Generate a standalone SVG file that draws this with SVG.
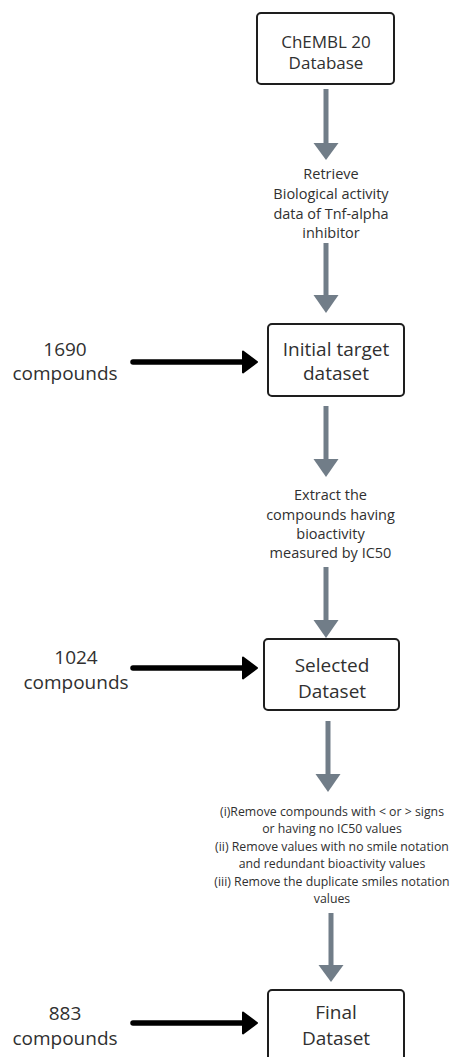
<svg xmlns="http://www.w3.org/2000/svg" width="454" height="1057" viewBox="0 0 454 1057">
  <defs>
    <style>
      .box { fill: #ffffff; stroke: #1e1e1e; stroke-width: 2; }
      .t { font-family: "Open Sans", "Liberation Sans", sans-serif; fill: #303030; text-anchor: middle; }
      .big { font-size: 19px; }
      .mid { font-size: 17px; }
      .step { font-size: 14.5px; }
      .small { font-size: 12.3px; }
      .flow { stroke: #717d88; stroke-width: 5; fill: none; }
      .flowhead { fill: #717d88; }
      .feed { stroke: #000000; stroke-width: 5.5; stroke-linecap: round; fill: none; }
      .feedhead { fill: #000000; stroke: #000000; stroke-width: 2; stroke-linejoin: round; }
    </style>
  </defs>
  <rect width="454" height="1057" fill="#ffffff"/>

  <!-- connectors -->
  <g id="connectors">
    <!-- vertical process arrows -->
    <line class="flow" x1="326" y1="89" x2="326" y2="144"/>
    <polygon class="flowhead" points="313.5,143 338.5,143 326,160"/>
    <line class="flow" x1="326" y1="243" x2="326" y2="296"/>
    <polygon class="flowhead" points="313.5,295 338.5,295 326,313"/>
    <line class="flow" x1="326" y1="406" x2="326" y2="460"/>
    <polygon class="flowhead" points="313.5,459 338.5,459 326,477"/>
    <line class="flow" x1="326" y1="567" x2="326" y2="621"/>
    <polygon class="flowhead" points="313.5,620 338.5,620 326,638"/>
    <line class="flow" x1="328" y1="721" x2="328" y2="775"/>
    <polygon class="flowhead" points="315.5,774 340.5,774 328,792"/>
    <line class="flow" x1="331" y1="913" x2="331" y2="966"/>
    <polygon class="flowhead" points="318.5,965 343.5,965 331,982"/>

    <!-- compound count arrows -->
    <line class="feed" x1="133" y1="362" x2="245" y2="362"/>
    <polygon class="feedhead" points="243,351.5 257,362 243,372.5"/>
    <line class="feed" x1="133" y1="668" x2="245" y2="668"/>
    <polygon class="feedhead" points="243,657.5 257,668 243,678.5"/>
    <line class="feed" x1="133" y1="1023" x2="245" y2="1023"/>
    <polygon class="feedhead" points="243,1012.5 257,1023 243,1033.5"/>
  </g>

  <!-- source database -->
  <g id="chembl">
    <rect class="box" x="257" y="13" width="137" height="71" rx="4"/>
    <text class="t mid" x="326" y="48">ChEMBL 20</text>
    <text class="t mid" x="326" y="69">Database</text>
  </g>

  <g id="step-retrieve">
    <text class="t step" x="331" y="179">Retrieve</text>
    <text class="t step" x="331" y="199">Biological activity</text>
    <text class="t step" x="331" y="218.5">data of Tnf-alpha</text>
    <text class="t step" x="331" y="238">inhibitor</text>
  </g>

  <g id="initial">
    <rect class="box" x="268" y="324" width="136" height="72" rx="4"/>
    <text class="t big" x="336" y="355.5">Initial target</text>
    <text class="t big" x="336" y="379.5">dataset</text>
  </g>

  <g id="count-1690">
    <text class="t big" x="65" y="355.5">1690</text>
    <text class="t big" x="65" y="379.5">compounds</text>
  </g>

  <g id="step-extract">
    <text class="t step" x="330.5" y="500">Extract the</text>
    <text class="t step" x="330.5" y="520">compounds having</text>
    <text class="t step" x="330.5" y="539">bioactivity</text>
    <text class="t step" x="330.5" y="558">measured by IC50</text>
  </g>

  <g id="selected">
    <rect class="box" x="264" y="639" width="135" height="71" rx="4"/>
    <text class="t big" x="332" y="671.5">Selected</text>
    <text class="t big" x="332" y="697.5">Dataset</text>
  </g>

  <g id="count-1024">
    <text class="t big" x="76" y="663.5">1024</text>
    <text class="t big" x="76" y="688.5">compounds</text>
  </g>

  <g id="step-clean">
    <text class="t small" x="332" y="816">(i)Remove compounds with &lt; or &gt; signs</text>
    <text class="t small" x="332" y="833">or having no IC50 values</text>
    <text class="t small" x="332" y="851">(ii) Remove values with no smile notation</text>
    <text class="t small" x="332" y="868">and redundant bioactivity values</text>
    <text class="t small" x="332" y="886">(iii) Remove the duplicate smiles notation</text>
    <text class="t small" x="332" y="903">values</text>
  </g>

  <g id="final">
    <rect class="box" x="268" y="990" width="136" height="72" rx="4"/>
    <text class="t big" x="336" y="1018.5">Final</text>
    <text class="t big" x="336" y="1044.5">Dataset</text>
  </g>

  <g id="count-883">
    <text class="t big" x="65" y="1019.5">883</text>
    <text class="t big" x="65" y="1044.5">compounds</text>
  </g>
</svg>
